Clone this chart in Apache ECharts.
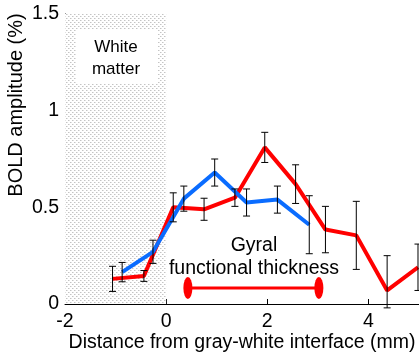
<!DOCTYPE html>
<html>
<head>
<meta charset="utf-8">
<script src="https://cdn.jsdelivr.net/npm/echarts@6/dist/echarts.min.js"></script>
<style>
  html, body { margin: 0; padding: 0; background: #fff; }
  #chart { width: 419px; height: 354px; }
</style>
</head>
<body>
<div id="chart"></div>
<script>
// red: all depths, blue: gyral subset
const redX = [-1.06, -0.44, 0.14, 0.75, 1.36, 1.95, 2.56, 3.15, 3.76, 4.37, 4.98];
const redY = [0.13, 0.145, 0.50, 0.49, 0.55, 0.81, 0.62, 0.385, 0.355, 0.07, 0.19];
const redErr = [0.065, 0.028, 0.075, 0.057, 0.045, 0.078, 0.10, 0.12, 0.176, 0.18, 0.12];

const blueX = [-0.87, -0.26, 0.35, 0.96, 1.59, 2.20, 2.83];
const blueY = [0.165, 0.27, 0.545, 0.68, 0.525, 0.54, 0.41];
const blueErr = [0.05, 0.06, 0.065, 0.07, 0.07, 0.07, 0.15];

const thicknessX = [0.43, 3.02];
const thicknessY = 0.083;

const xTicks = [-2, 0, 2, 4];
const whiteMatter = [-2, 0];

const font = 'Liberation Sans, Arial, sans-serif';

// dotted gray fill for the white-matter band
function makePattern() {
	const c = document.createElement('canvas');
	c.width = 4;
	c.height = 4;
	const ctx = c.getContext('2d');
	ctx.fillStyle = '#fff';
	ctx.fillRect(0, 0, 4, 4);
	ctx.fillStyle = '#c4c4c4';
	ctx.fillRect(0, 0, 1, 1);
	ctx.fillRect(2, 2, 1, 1);
	ctx.fillStyle = '#e2e2e2';
	ctx.fillRect(1, 0, 1, 1);
	ctx.fillRect(3, 2, 1, 1);
	return c;
}

function errorBars(xs, ys, errs) {
	return {
		type: 'custom',
		z: 5,
		clip: false,
		data: xs.map((x, i) => [x, ys[i] - errs[i], ys[i] + errs[i]]),
		renderItem: function (params, api) {
			// bars stop just below the x axis, as in the original
			const lo = api.coord([api.value(0), Math.max(api.value(1), -0.02)]);
			const hi = api.coord([api.value(0), api.value(2)]);
			const cap = 3.5;
			const style = { stroke: '#000', lineWidth: 1 };
			return {
				type: 'group',
				children: [
					{ type: 'line', shape: { x1: lo[0], y1: lo[1], x2: hi[0], y2: hi[1] }, style: style },
					{ type: 'line', shape: { x1: lo[0] - cap, y1: lo[1], x2: lo[0] + cap, y2: lo[1] }, style: style },
					{ type: 'line', shape: { x1: hi[0] - cap, y1: hi[1], x2: hi[0] + cap, y2: hi[1] }, style: style }
				]
			};
		}
	};
}

const chart = echarts.init(document.getElementById('chart'), null, { renderer: 'canvas' });

chart.setOption({
	animation: false,
	textStyle: { fontFamily: font },
	grid: { left: 65, right: 0, top: 14, bottom: 50, outerBoundsMode: 'none' },
	xAxis: {
		type: 'value',
		min: -2,
		max: 5,
		interval: 2,
		name: 'Distance from gray-white interface (mm)',
		nameLocation: 'middle',
		nameGap: 29,
		nameMoveOverlap: false,
		nameTextStyle: { fontSize: 19.5, color: '#000', fontFamily: font },
		axisLine: { onZero: false, lineStyle: { color: '#000', width: 1 } },
		axisTick: { inside: true, length: 5, lineStyle: { color: '#000' }, customValues: xTicks },
		axisLabel: { fontSize: 19.5, color: '#000', margin: 8, customValues: xTicks, fontFamily: font },
		splitLine: { show: false }
	},
	yAxis: {
		type: 'value',
		min: 0,
		max: 1.5,
		interval: 0.5,
		axisLine: { show: true, onZero: false, lineStyle: { color: '#000', width: 1 } },
		axisTick: { show: true, inside: true, length: 5, lineStyle: { color: '#000' } },
		axisLabel: { fontSize: 19.5, color: '#000', margin: 6, fontFamily: font },
		splitLine: { show: false }
	},
	graphic: [
		{
			type: 'text',
			x: 16, y: 105,
			rotation: Math.PI / 2,
			style: {
				text: 'BOLD amplitude (%)',
				font: '20px ' + font,
				fill: '#000',
				align: 'center',
				verticalAlign: 'middle'
			}
		},
		{
			type: 'rect',
			z: 3,
			shape: { x: 76, y: 30, width: 82, height: 54 },
			style: { fill: '#fff' }
		},
		{
			type: 'text',
			z: 4,
			x: 116, y: 58,
			style: {
				text: 'White\nmatter',
				font: '17px ' + font,
				lineHeight: 22,
				fill: '#000',
				align: 'center',
				verticalAlign: 'middle'
			}
		},
		{
			type: 'text',
			z: 4,
			x: 254, y: 257,
			style: {
				text: 'Gyral\nfunctional thickness',
				font: '19.5px ' + font,
				lineHeight: 23,
				fill: '#000',
				align: 'center',
				verticalAlign: 'middle'
			}
		}
	],
	series: [
		{
			type: 'line',
			name: 'band',
			data: [],
			markArea: {
				silent: true,
				itemStyle: { color: { image: makePattern(), repeat: 'repeat' } },
				data: [[{ xAxis: whiteMatter[0] }, { xAxis: whiteMatter[1] }]]
			}
		},
		{
			type: 'line',
			name: 'all',
			z: 2,
			data: redX.map((x, i) => [x, redY[i]]),
			symbol: 'none',
			clip: false,
			lineStyle: { color: '#ff0000', width: 4 }
		},
		{
			type: 'line',
			name: 'gyral',
			z: 3,
			data: blueX.map((x, i) => [x, blueY[i]]),
			symbol: 'none',
			lineStyle: { color: '#0a6cff', width: 4 }
		},
		errorBars(redX, redY, redErr),
		errorBars(blueX, blueY, blueErr),
		{
			type: 'line',
			name: 'thickness',
			z: 4,
			data: thicknessX.map(x => [x, thicknessY]),
			symbol: 'circle',
			symbolSize: [9, 22],
			itemStyle: { color: '#ff0000' },
			lineStyle: { color: '#ff0000', width: 3 }
		}
	]
});
</script>
</body>
</html>
